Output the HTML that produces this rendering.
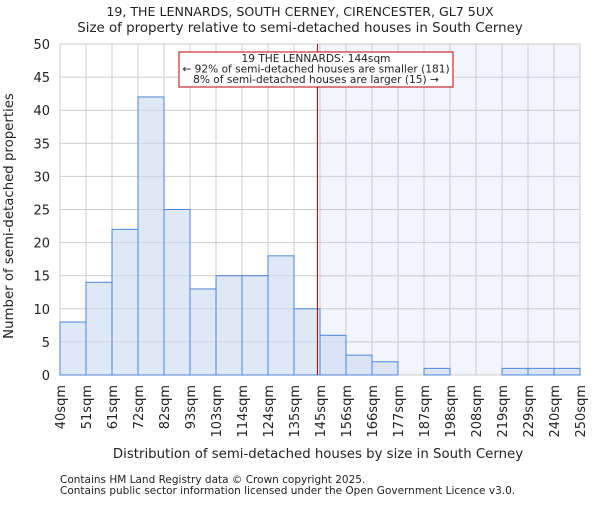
<!DOCTYPE html>
<html><head><meta charset="utf-8"><style>
body{margin:0;background:#fff}
svg text{font-family:"DejaVu Sans","Liberation Sans",sans-serif;fill:#222}
</style></head><body>
<svg id="c" width="600" height="500" xmlns="http://www.w3.org/2000/svg">
<text x="300" y="16" text-anchor="middle" font-size="12.6">19, THE LENNARDS, SOUTH CERNEY, CIRENCESTER, GL7 5UX</text>
<text x="300" y="32" text-anchor="middle" font-size="13.4">Size of property relative to semi-detached houses in South Cerney</text>
<g id="plot"></g>
<text x="318" y="458" text-anchor="middle" font-size="13.3">Distribution of semi-detached houses by size in South Cerney</text>
<text transform="translate(13,216) rotate(-90)" text-anchor="middle" font-size="13.3">Number of semi-detached properties</text>
<text x="60" y="483" font-size="10.5">Contains HM Land Registry data © Crown copyright 2025.</text>
<text x="60" y="494" font-size="10.5">Contains public sector information licensed under the Open Government Licence v3.0.</text>
</svg>
<script>
const binEdges=[40,51,61,72,82,93,103,114,124,135,145,156,166,177,187,198,208,219,229,240,250];
const counts=[8,14,22,42,25,13,15,15,18,10,6,3,2,0,1,0,0,1,1,1];
const yTicks=[0,5,10,15,20,25,30,35,40,45,50];
const propertySize=144;
const NS="http://www.w3.org/2000/svg";
const g=document.getElementById('plot');
const X0=60,X1=580,Y0=375,Y1=44;
const xi=i=>X0+(X1-X0)*i/(binEdges.length-1);
const xv=v=>{for(let i=0;i<binEdges.length-1;i++){if(v<=binEdges[i+1])return xi(i)+(v-binEdges[i])/(binEdges[i+1]-binEdges[i])*(xi(i+1)-xi(i));}return X1;};
const y=v=>Y0-(Y0-Y1)*v/50;
function mk(t,a){const e=document.createElementNS(NS,t);for(const k in a)e.setAttribute(k,a[k]);g.appendChild(e);return e;}
const px=xv(propertySize);
let sh=mk('rect',{x:px,y:Y1,width:X1-px,height:Y0-Y1,fill:'#f3f5fd'});


yTicks.forEach(t=>{
 const l=mk('line',{x1:X0,x2:X1,y1:y(t),y2:y(t),stroke:'#cccccc','stroke-width':1});
 
 
 const tx=mk('text',{x:X0-10,y:y(t)+5,'text-anchor':'end','font-size':13});
 tx.textContent=t;
 
 
});
binEdges.forEach((b,i)=>{
 const l=mk('line',{x1:xi(i),x2:xi(i),y1:Y1,y2:Y0,stroke:'#cccccc','stroke-width':1});
 
 
 const tx=mk('text',{transform:`translate(${xi(i)+5},385) rotate(-90)`,'text-anchor':'end','font-size':13});
 tx.textContent=b+'sqm';
 
 
});
counts.forEach((c,i)=>{
 if(c<=0)return;
 const r=mk('rect',{x:xi(i),y:y(c),width:xi(i+1)-xi(i),height:Y0-y(c),fill:'#c9d8ef','fill-opacity':0.6,stroke:'#4a86d6','stroke-width':1});
 
 
});
const ml=mk('line',{x1:px,x2:px,y1:Y1,y2:Y0,stroke:'#a00000','stroke-width':1});


const box=mk('rect',{x:179,y:52,width:274,height:35,fill:'#fff',stroke:'#c00000','stroke-width':1});


const lines=['19 THE LENNARDS: 144sqm','← 92% of semi-detached houses are smaller (181)','8% of semi-detached houses are larger (15) →'];
lines.forEach((s,i)=>{
 const t=mk('text',{x:316,y:62+i*10.5,'text-anchor':'middle','font-size':10.6});
 t.textContent=s;
 
 
});
</script>
</body></html>
